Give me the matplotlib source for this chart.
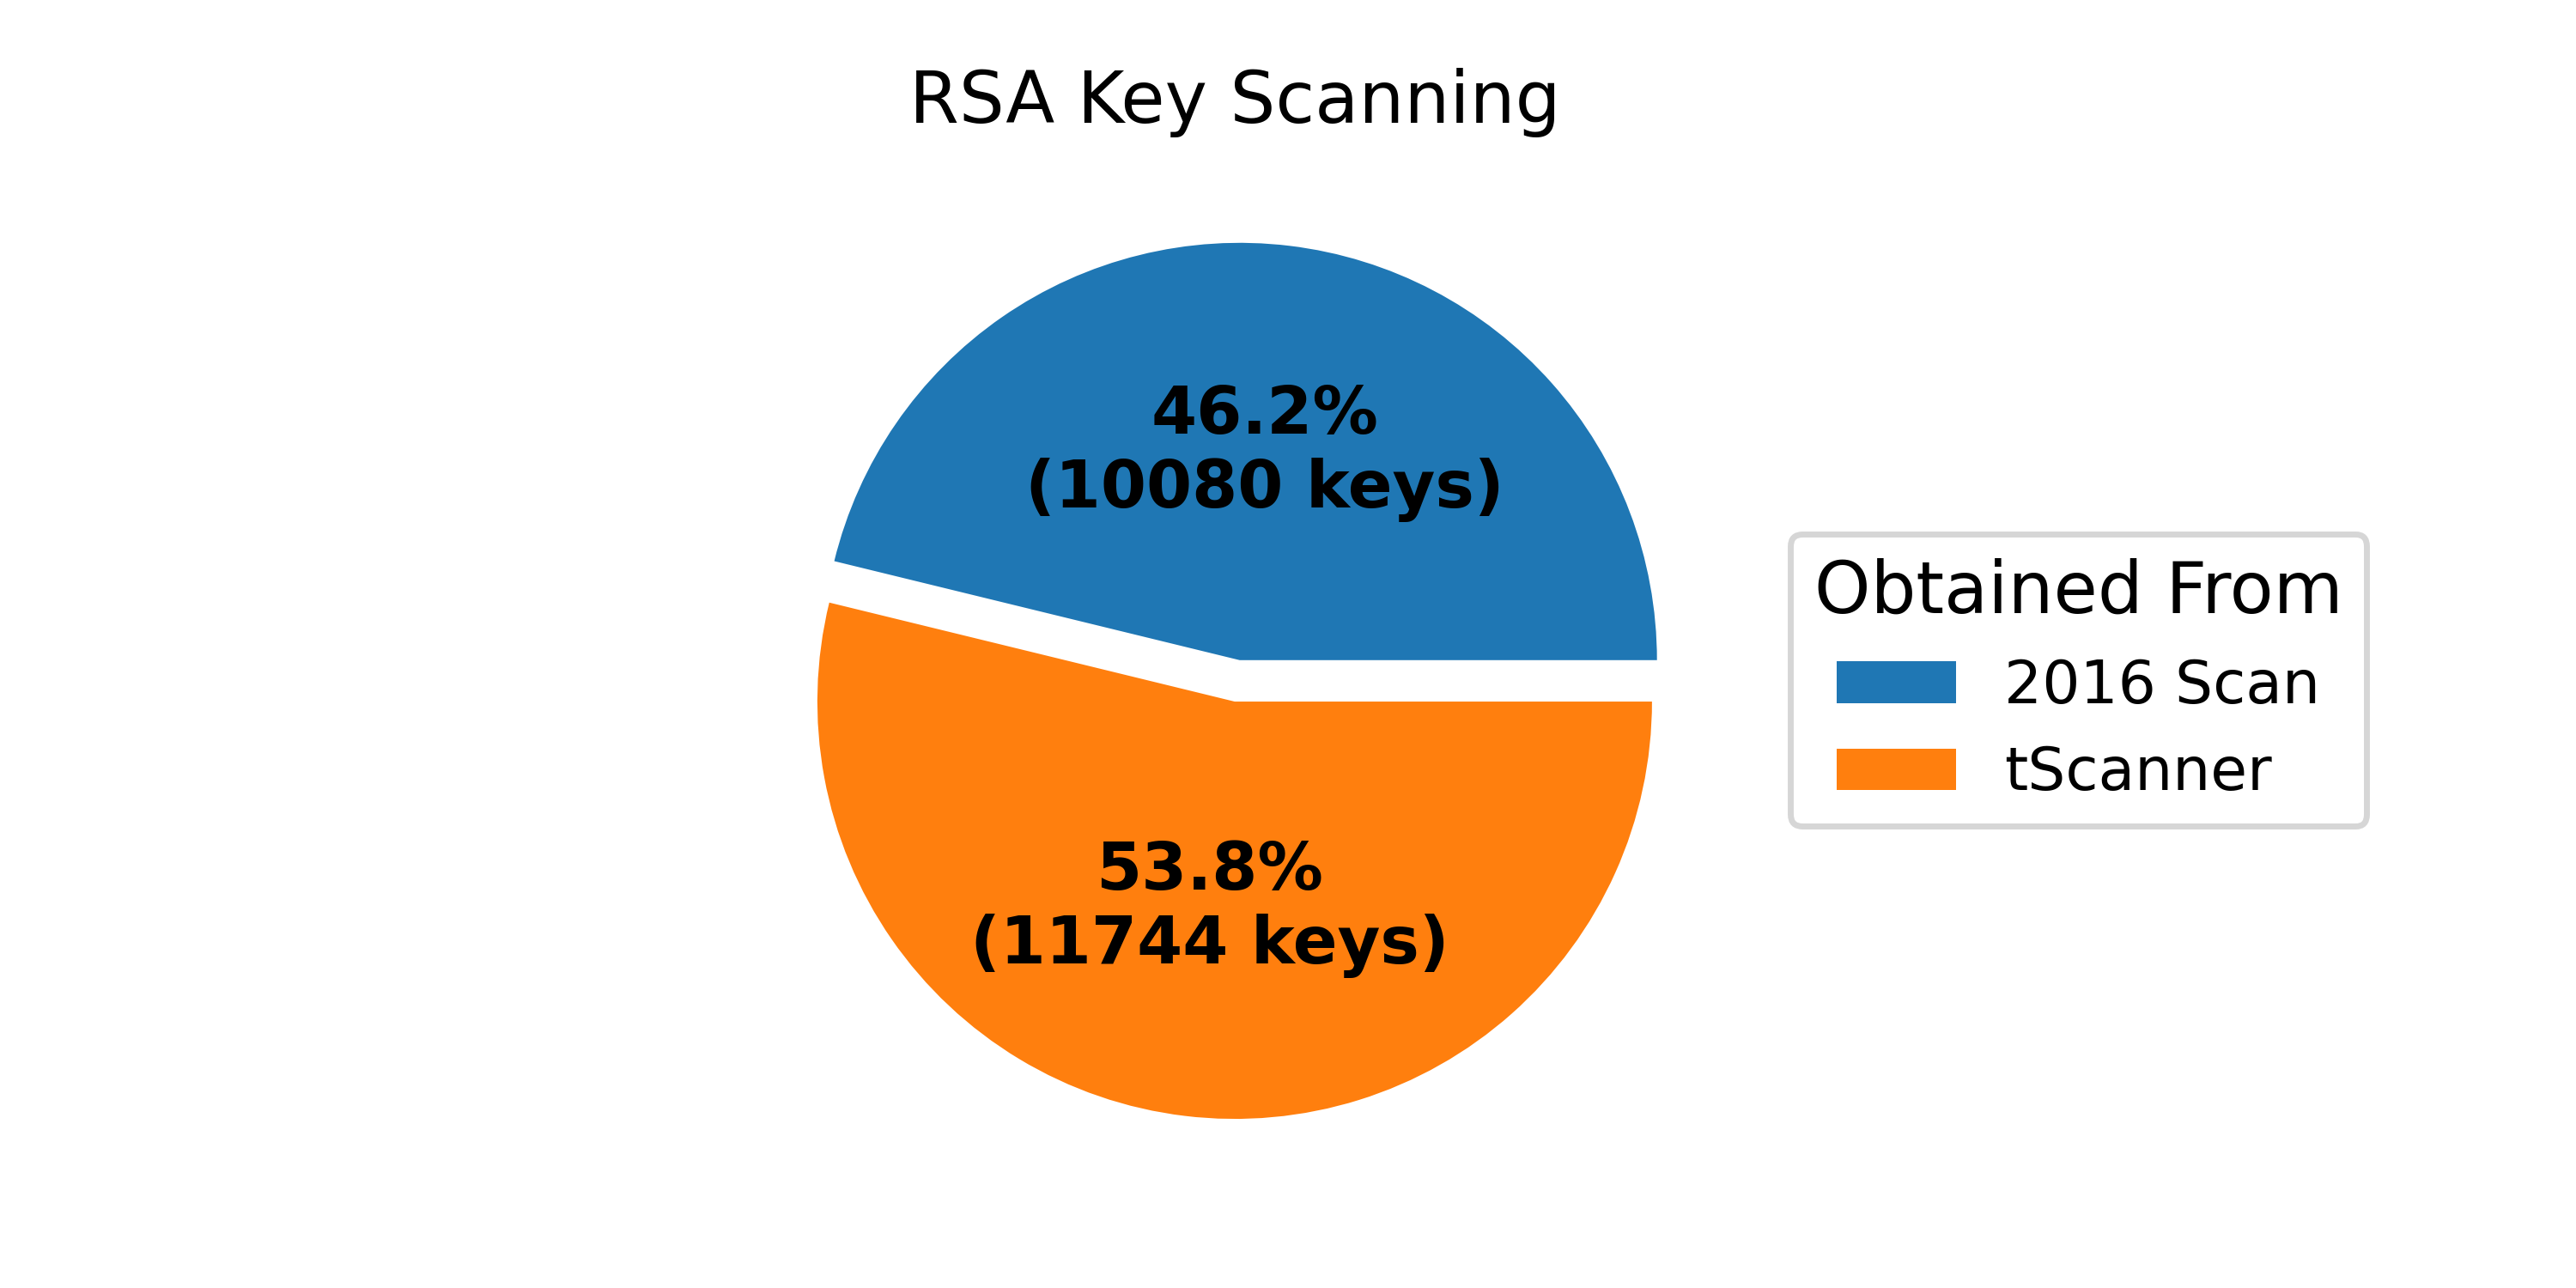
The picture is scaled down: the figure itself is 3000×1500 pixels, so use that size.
import matplotlib.pyplot as plt

sources = ["2016 Scan", "tScanner"]
keys = [10080, 11744]
explode = [0.1, 0]


def label(pct, vals):
    n = int(round(pct / 100. * sum(vals)))
    return "{:.1f}%\n({:d} keys)".format(pct, n)


fig = plt.figure(figsize=(6, 3))
ax = fig.add_axes([0.2768, 0.0503, 0.405, 0.81], aspect="equal")

wedges, texts, autotexts = ax.pie(keys, explode=explode, pctdistance=0.5,
                                  autopct=lambda pct: label(pct, keys),
                                  textprops=dict(color="k"))

ax.legend(wedges, sources, title="Obtained From", title_fontsize=12,
          loc="center left", bbox_to_anchor=(1.004, 0.5206))

plt.setp(autotexts, size=11, weight="bold")
ax.set_title("RSA Key Scanning", pad=9.6)

plt.savefig("out.png", dpi=500)
